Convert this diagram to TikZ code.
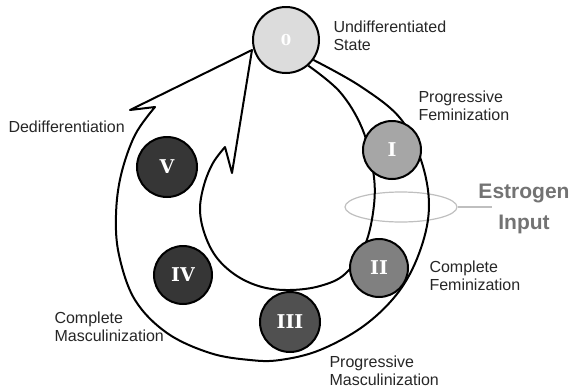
\documentclass[tikz,border=0pt]{standalone}
\usepackage{fontspec}
\setmainfont{Liberation Sans}
\newfontfamily\numeralfont{DejaVu Serif}
\usetikzlibrary{shapes.geometric}
\definecolor{stagezero}{HTML}{DCDCDC}
\definecolor{stageone}{HTML}{A6A6A6}
\definecolor{stagetwo}{HTML}{808080}
\definecolor{stagethree}{HTML}{505050}
\definecolor{stagedark}{HTML}{363636}
\tikzset{
    x = 1pt, y = -1pt,
    stage/.style = {circle, draw, line width = 2pt, inner sep = 0pt,
        minimum size = 58pt, text = white,
        font = \numeralfont\bfseries\fontsize{19}{19}\selectfont},
    caption/.style = {anchor = west, align = left, text = black!85,
        font = \fontsize{16}{18}\selectfont},
    band/.style = {line width = 2pt, line join = round}
}

\begin{document}
\begin{tikzpicture}
    \useasboundingbox (0,0) rectangle (582,389);

    % estrogen ring behind the band
    \node[draw = black!25, line width = 1.2pt, ellipse, minimum width = 112pt,
        minimum height = 30pt] (ring) at (401,207) {};
    \coordinate (pointer) at (492,207);
    \draw[black!25, line width = 1.2pt] (ring.east) -- (pointer);

    \node[stage, fill = stagezero, minimum size = 66pt,
        font = \numeralfont\bfseries\fontsize{15}{15}\selectfont] (s0) at (286,40) {0};
    \coordinate (tip) at (252,50);

    % the band, clockwise from the undifferentiated state
    \draw[band] plot[smooth, tension = 0.6] coordinates {(s0.-36) (360,86)
            (400,118) (421,160) (429,205) (421,248) (400,290) (365,325)
            (320,350) (280,360) (250,360) (210,353) (167,333) (135,300)
            (119,255) (116,215) (121,175) (135,135) (155,107)}
        -- (130,110) -- (tip) -- (232,173) -- (225,147)
        -- plot[smooth, tension = 0.6] coordinates {(225,147) (213,163)
            (204,185) (200,210) (205,235) (217,258) (237,276) (262,287)
            (290,290) (320,286) (345,274) (365,245) (374,205) (373,170)
            (362,128) (340,92) (s0.-49)};

    \node[stage, fill = stageone] (s1) at (392,150) {I};
    \node[stage, fill = stagetwo] (s2) at (379,268) {II};
    \node[stage, fill = stagethree, minimum size = 60pt] (s3) at (290,322) {III};
    \node[stage, fill = stagedark] (s4) at (183,275) {IV};
    \node[stage, fill = stagedark, minimum size = 60pt] (s5) at (167,167) {V};

    \node[caption] (undiff) at (330,36) {Undifferentiated\\State};
    \node[caption] (progfem) at (415,106) {Progressive\\Feminization};
    \node[caption] (compfem) at (426,276) {Complete\\Feminization};
    \node[caption] (progmasc) at (326,371) {Progressive\\Masculinization};
    \node[caption] (compmasc) at (51,327) {Complete\\Masculinization};
    \node[caption] (dediff) at (5,127) {Dedifferentiation};
    \node[align = center, text = black!55,
        font = \bfseries\fontsize{21}{31}\selectfont] (estrogen) at (524,209)
        {Estrogen\\Input};
\end{tikzpicture}
\end{document}
